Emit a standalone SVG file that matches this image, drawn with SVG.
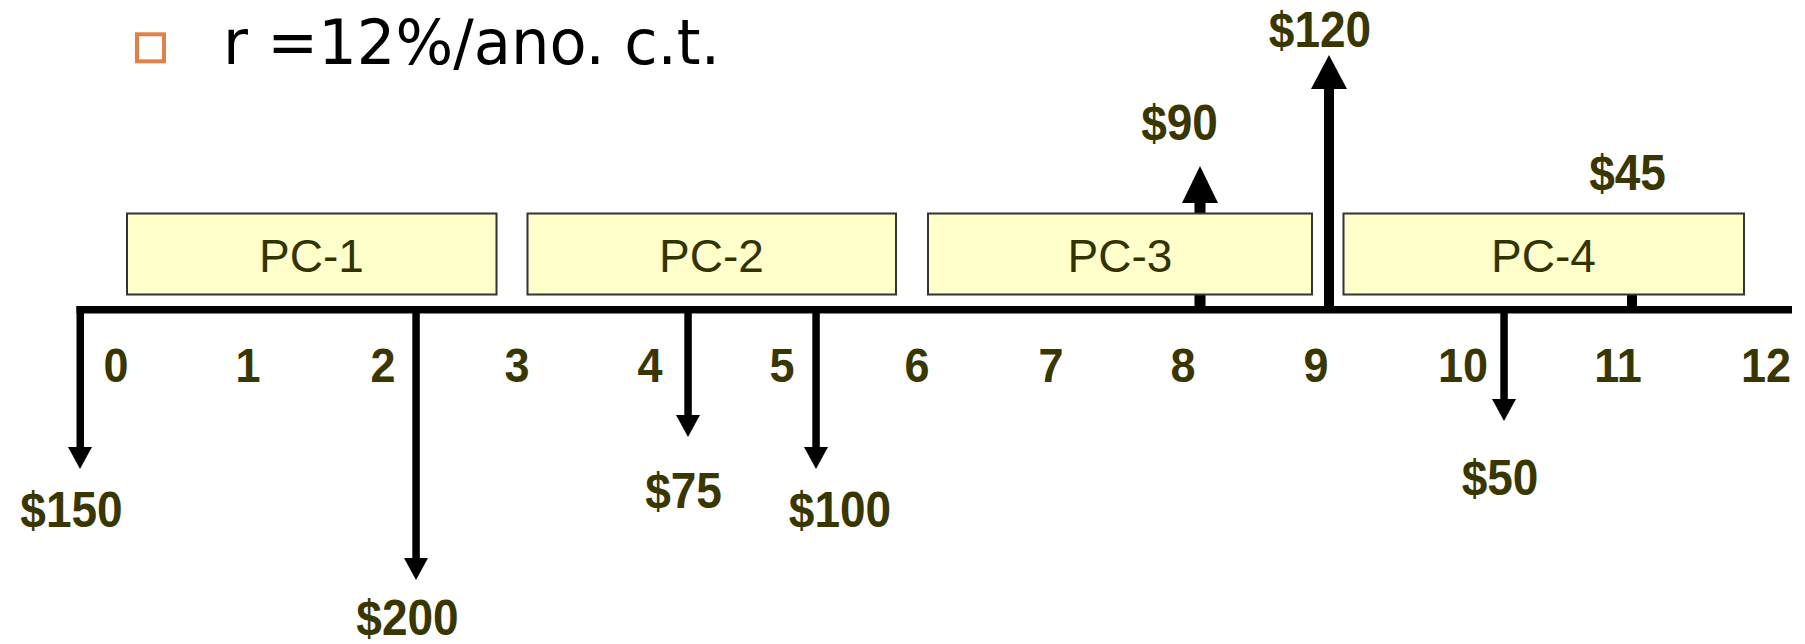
<svg xmlns="http://www.w3.org/2000/svg" width="1805" height="644" viewBox="0 0 1805 644">
  <style>
    .box { fill: #FFFFCC; stroke: #333333; stroke-width: 2; }
    .pc { font-family: "Liberation Sans", Arial, sans-serif; font-size: 46px; fill: #333300; text-anchor: middle; }
    .num { font-family: "Liberation Sans", Arial, sans-serif; font-weight: bold; font-size: 45px; fill: #3A3600; text-anchor: middle; }
    .amt { font-family: "Liberation Sans", Arial, sans-serif; font-weight: bold; font-size: 46px; fill: #3A3600; text-anchor: middle; }
    .title { font-family: "DejaVu Sans", "Liberation Sans", sans-serif; font-size: 63px; fill: #000000; }
    .ink { fill: #000000; }
  </style>
  <rect width="1805" height="644" fill="#FFFFFF"/>

  <g id="title">
    <rect x="137" y="34.3" width="27" height="27" fill="none" stroke="#E0814A" stroke-width="4"/>
    <text class="title" x="223" y="64" textLength="497" lengthAdjust="spacingAndGlyphs">r =12%/ano. c.t.</text>
  </g>

  <g id="connectors">
    <!-- time axis -->
    <rect class="ink" x="76.5" y="306" width="1715.5" height="7.5"/>
    <!-- $150 at 0 -->
    <rect class="ink" x="76.5" y="306" width="7.5" height="142"/>
    <polygon class="ink" points="68,447 92,447 80,469"/>
    <!-- $200 -->
    <rect class="ink" x="412.3" y="306" width="7.5" height="253"/>
    <polygon class="ink" points="404,558 428,558 416,580"/>
    <!-- $75 -->
    <rect class="ink" x="684.3" y="306" width="7.5" height="110"/>
    <polygon class="ink" points="676,415 700,415 688,437"/>
    <!-- $100 -->
    <rect class="ink" x="812.3" y="306" width="7.5" height="142"/>
    <polygon class="ink" points="804,447 828,447 816,469"/>
    <!-- $50 -->
    <rect class="ink" x="1500.3" y="306" width="7.5" height="94"/>
    <polygon class="ink" points="1492,399 1516,399 1504,421"/>
    <!-- $90 up -->
    <rect class="ink" x="1194.5" y="202" width="11" height="110"/>
    <polygon class="ink" points="1182,203 1218,203 1200,166"/>
    <!-- $120 up -->
    <rect class="ink" x="1324" y="88" width="10" height="224"/>
    <polygon class="ink" points="1311,89 1347,89 1329,55"/>
    <!-- $45 up (hidden behind PC-4) -->
    <rect class="ink" x="1627" y="240" width="10" height="72"/>
  </g>

  <g id="pc1">
    <rect class="box" x="127" y="213.5" width="369.5" height="81"/>
    <text class="pc" x="311.5" y="272">PC-1</text>
  </g>
  <g id="pc2">
    <rect class="box" x="527.5" y="213.5" width="368.5" height="81"/>
    <text class="pc" x="711.5" y="272">PC-2</text>
  </g>
  <g id="pc3">
    <rect class="box" x="928" y="213.5" width="384" height="81"/>
    <text class="pc" x="1120" y="272">PC-3</text>
  </g>
  <g id="pc4">
    <rect class="box" x="1343.5" y="213.5" width="400.5" height="81"/>
    <text class="pc" x="1543.5" y="272">PC-4</text>
  </g>

  <g id="ticks">
    <text class="num" transform="translate(116,382) scale(1,1.07)">0</text>
    <text class="num" transform="translate(248,382) scale(1,1.07)">1</text>
    <text class="num" transform="translate(383,382) scale(1,1.07)">2</text>
    <text class="num" transform="translate(517,382) scale(1,1.07)">3</text>
    <text class="num" transform="translate(650,382) scale(1,1.07)">4</text>
    <text class="num" transform="translate(782,382) scale(1,1.07)">5</text>
    <text class="num" transform="translate(917,382) scale(1,1.07)">6</text>
    <text class="num" transform="translate(1051,382) scale(1,1.07)">7</text>
    <text class="num" transform="translate(1183,382) scale(1,1.07)">8</text>
    <text class="num" transform="translate(1316,382) scale(1,1.07)">9</text>
    <text class="num" transform="translate(1463,382) scale(1,1.07)">10</text>
    <text class="num" transform="translate(1618,382) scale(1,1.07)">11</text>
    <text class="num" transform="translate(1766,382) scale(1,1.07)">12</text>
  </g>

  <g id="amounts">
    <text class="amt" transform="translate(71.5,527) scale(1,1.07)">$150</text>
    <text class="amt" transform="translate(407.5,635) scale(1,1.07)">$200</text>
    <text class="amt" transform="translate(683.5,508) scale(1,1.07)">$75</text>
    <text class="amt" transform="translate(840,527) scale(1,1.07)">$100</text>
    <text class="amt" transform="translate(1500,495) scale(1,1.07)">$50</text>
    <text class="amt" transform="translate(1179.5,140) scale(1,1.07)">$90</text>
    <text class="amt" transform="translate(1320,47) scale(1,1.07)">$120</text>
    <text class="amt" transform="translate(1627.5,190) scale(1,1.07)">$45</text>
  </g>
</svg>
